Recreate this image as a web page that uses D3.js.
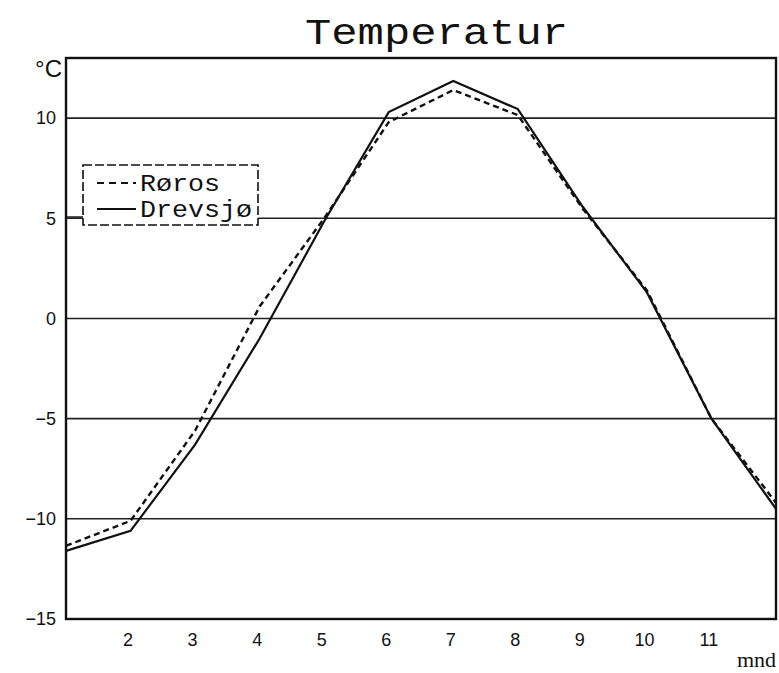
<!DOCTYPE html>
<meta charset="utf-8" />
<html>
<head>
<script src="https://d3js.org/d3.v7.min.js"></script>
<style>
  body { margin: 0; background: #fff; }
</style>
</head>
<body>
<script type="text/javascript">
// monthly mean temperature
var months = [1, 2, 3, 4, 5, 6, 7, 8, 9, 10, 11, 12];
var roros = [-11.35, -10.1, -5.6, 0.6, 5.0, 9.8, 11.4, 10.15, 5.5, 1.4, -5.0, -9.2];
var drevsjo = [-11.6, -10.6, -6.3, -1.0, 4.85, 10.3, 11.85, 10.45, 5.6, 1.3, -5.0, -9.5];
var xTicks = [2, 3, 4, 5, 6, 7, 8, 9, 10, 11];
var yTicks = [-15, -10, -5, 0, 5, 10];
var seriesNames = ['Røros', 'Drevsjø'];

var width = 779, height = 673;
var plotLeft = 66, plotRight = 776, plotTop = 58, plotBottom = 619;

var svg = d3.select('body').append('svg')
    .attr('width', width)
    .attr('height', height);

var x = d3.scaleLinear().domain([1, 12]).range([plotLeft, plotRight]);
var y = d3.scaleLinear().domain([-15, 13]).range([plotBottom, plotTop]);

// grid lines
svg.append('g')
    .selectAll('line')
    .data(yTicks.filter(function(d) { return d > -15; }))
    .enter()
    .append('line')
    .attr('x1', plotLeft)
    .attr('x2', plotRight)
    .attr('y1', function(d) { return y(d); })
    .attr('y2', function(d) { return y(d); })
    .attr('stroke', '#222')
    .attr('stroke-width', 1.6);

// frame
svg.append('rect')
    .attr('x', plotLeft)
    .attr('y', plotTop)
    .attr('width', plotRight - plotLeft)
    .attr('height', plotBottom - plotTop)
    .attr('fill', 'none')
    .attr('stroke', '#111')
    .attr('stroke-width', 2.4);

// y axis labels
var yAxis = d3.axisLeft(y).tickValues(yTicks).tickSize(0).tickPadding(10)
    .tickFormat(function(d) { return d < 0 ? '\u2212' + Math.abs(d) : d; });
var gy = svg.append('g')
    .attr('transform', 'translate(' + plotLeft + ',0)')
    .call(yAxis);
gy.select('.domain').remove();
gy.selectAll('text')
    .style('font-family', 'Liberation Sans, Arial, sans-serif')
    .style('font-size', '18px')
    .attr('fill', '#111');

svg.append('text')
    .attr('x', plotLeft - 4)
    .attr('y', plotTop + 19)
    .attr('text-anchor', 'end')
    .style('font-family', 'Liberation Sans, Arial, sans-serif')
    .style('font-size', '24px')
    .attr('fill', '#111')
    .text('°C');

// x axis labels
var xAxis = d3.axisBottom(x).tickValues(xTicks).tickSize(0).tickPadding(14)
    .tickFormat(d3.format('d'));
var gx = svg.append('g')
    .attr('transform', 'translate(0,' + plotBottom + ')')
    .call(xAxis);
gx.select('.domain').remove();
gx.selectAll('text')
    .attr('dx', -3)
    .style('font-family', 'Liberation Sans, Arial, sans-serif')
    .style('font-size', '18px')
    .attr('fill', '#111');

svg.append('text')
    .attr('x', 776)
    .attr('y', 667)
    .attr('text-anchor', 'end')
    .style('font-family', 'Liberation Serif, serif')
    .style('font-size', '22px')
    .attr('fill', '#111')
    .text('mnd');

// title
svg.append('text')
    .attr('x', 305)
    .attr('y', 44)
    .attr('textLength', 263)
    .attr('lengthAdjust', 'spacingAndGlyphs')
    .style('font-family', 'Liberation Mono, monospace')
    .style('font-size', '36px')
    .attr('fill', '#111')
    .text('Temperatur');

// data lines
var line = d3.line()
    .x(function(d, i) { return x(months[i]); })
    .y(function(d) { return y(d); });

svg.append('path')
    .attr('d', line(roros))
    .attr('fill', 'none')
    .attr('stroke', '#111')
    .attr('stroke-width', 2.4)
    .attr('stroke-dasharray', '6,4');

svg.append('path')
    .attr('d', line(drevsjo))
    .attr('fill', 'none')
    .attr('stroke', '#111')
    .attr('stroke-width', 2.2);

// legend
var lg = svg.append('g');
lg.append('rect')
    .attr('x', 83)
    .attr('y', 165)
    .attr('width', 175)
    .attr('height', 60)
    .attr('fill', '#fff')
    .attr('stroke', '#111')
    .attr('stroke-width', 1.6)
    .attr('stroke-dasharray', '9,3');
lg.append('line')
    .attr('x1', plotLeft)
    .attr('x2', 83)
    .attr('y1', 217)
    .attr('y2', 217)
    .attr('stroke', '#111')
    .attr('stroke-width', 1.4);

var rows = lg.selectAll('g.row')
    .data(seriesNames)
    .enter()
    .append('g')
    .attr('class', 'row')
    .attr('transform', function(d, i) { return 'translate(0,' + (i * 26) + ')'; });
rows.append('line')
    .attr('x1', 97)
    .attr('x2', 136)
    .attr('y1', 183)
    .attr('y2', 183)
    .attr('stroke', '#111')
    .attr('stroke-width', 2)
    .attr('stroke-dasharray', function(d, i) { return i == 0 ? '7,5' : null; });
rows.append('text')
    .attr('x', 140)
    .attr('y', 191)
    .attr('textLength', function(d) { return d.length * 16; })
    .attr('lengthAdjust', 'spacingAndGlyphs')
    .style('font-family', 'Liberation Mono, monospace')
    .style('font-size', '24px')
    .attr('fill', '#111')
    .text(function(d) { return d; });
</script>
</body>
</html>
